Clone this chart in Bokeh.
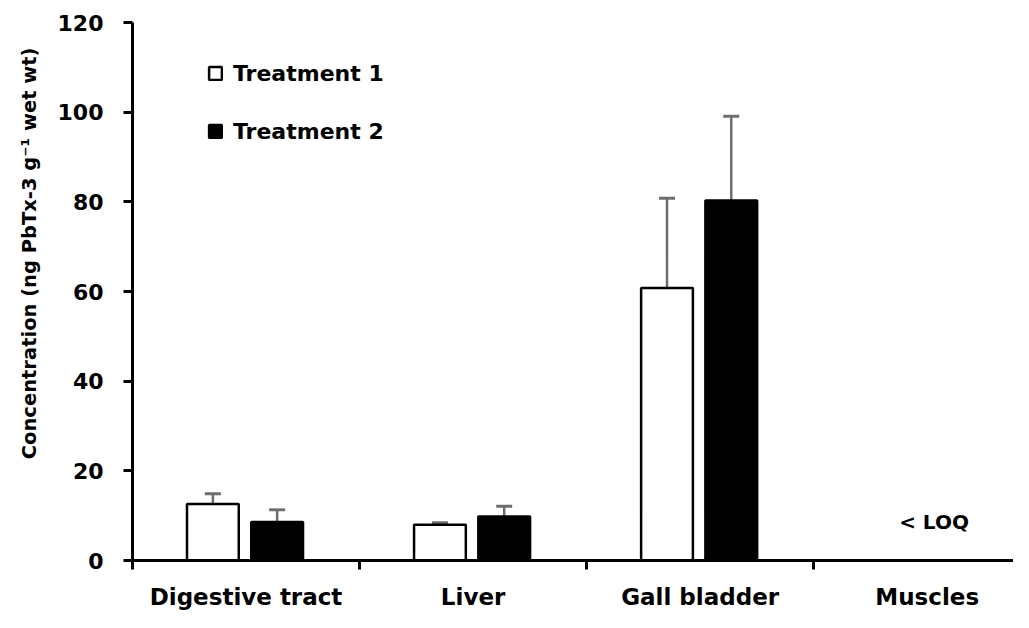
from bokeh.plotting import figure
from bokeh.models import (ColumnDataSource, Range1d, FixedTicker, Whisker, TeeHead,
                          Legend, LegendItem, Title)
from bokeh.transform import dodge
from bokeh.core.properties import value
from bokeh.embed import file_html
from bokeh.resources import INLINE

# ---- data ----
categories = ["Digestive tract", "Liver", "Gall bladder", "Muscles"]
bar_categories = ["Digestive tract", "Liver", "Gall bladder"]
treatment1 = [12.6, 8.0, 60.8]
treatment1_err = [2.3, 0.4, 20.0]
treatment2 = [8.6, 9.8, 80.3]
treatment2_err = [2.7, 2.3, 18.8]
y_ticks = [0, 20, 40, 60, 80, 100, 120]
loq_label = "< LOQ"
loq_category = "Muscles"
loq_y = [8.6]
series_names = ["Treatment 1", "Treatment 2"]
y_label = "Concentration (ng PbTx-3 g\u207b\u00b9 wet wt)"

FONT = "DejaVu Sans"

xc = [categories.index(c) + 0.5 for c in bar_categories]
src1 = ColumnDataSource(dict(x=xc, top=treatment1,
                             upper=[t + e for t, e in zip(treatment1, treatment1_err)]))
src2 = ColumnDataSource(dict(x=xc, top=treatment2,
                             upper=[t + e for t, e in zip(treatment2, treatment2_err)]))

p = figure(width=1013, height=612, output_backend="svg", toolbar_location=None,
           x_range=Range1d(0, 3.88), y_range=Range1d(0, 120),
           min_border_left=132, min_border_right=0, min_border_top=22,
           min_border_bottom=40)
p.outline_line_color = None
p.xgrid.visible = False
p.ygrid.visible = False
p.background_fill_color = "white"
p.border_fill_color = "white"

w = 0.228
off1, off2 = -0.146, 0.137
wh1 = Whisker(source=src1, base=dodge("x", off1), upper="upper", lower="top",
              dimension="height", line_color="#6e6e6e", line_width=2.5,
              lower_head=None,
              upper_head=TeeHead(size=16, line_color="#6e6e6e", line_width=3))
wh2 = Whisker(source=src2, base=dodge("x", off2), upper="upper", lower="top",
              dimension="height", line_color="#6e6e6e", line_width=2.5,
              lower_head=None,
              upper_head=TeeHead(size=16, line_color="#6e6e6e", line_width=3))
p.add_layout(wh1)
p.add_layout(wh2)

r1 = p.vbar(x=dodge("x", off1), top="top", width=w, source=src1,
            fill_color="white", line_color="black", line_width=2.5)
r2 = p.vbar(x=dodge("x", off2), top="top", width=w, source=src2,
            fill_color="black", line_color="black", line_width=2.5)

# <LOQ text
loq_src = ColumnDataSource(dict(x=[categories.index(loq_category) + 0.5 + 0.03],
                                y=loq_y, t=[loq_label]))
p.text(x="x", y="y", text="t", source=loq_src, text_align="center",
       text_baseline="middle", text_font=value(FONT), text_font_style="bold",
       text_font_size="20px", text_color="black")

# y axis
ya = p.yaxis[0]
ya.ticker = FixedTicker(ticks=y_ticks)
ya.axis_line_width = 3
ya.axis_line_color = "black"
ya.major_tick_line_width = 3
ya.major_tick_out = 9
ya.major_tick_in = 0
ya.minor_tick_line_color = None
ya.major_label_text_font = FONT
ya.major_label_text_font_style = "bold"
ya.major_label_text_font_size = "22px"
ya.major_label_text_color = "black"
ya.major_label_standoff = 20

# x axis
xa = p.xaxis[0]
xa.ticker = FixedTicker(ticks=[i + 0.5 for i in range(len(categories))],
                        minor_ticks=list(range(len(categories) + 1)))
xa.major_label_overrides = {i + 0.5: c for i, c in enumerate(categories)}
xa.axis_line_width = 3
xa.axis_line_color = "black"
xa.major_tick_line_color = None
xa.major_tick_out = 0
xa.major_tick_in = 0
xa.minor_tick_line_width = 3
xa.minor_tick_line_color = "black"
xa.minor_tick_out = 9
xa.minor_tick_in = 0
xa.major_label_text_font = FONT
xa.major_label_text_font_style = "bold"
xa.major_label_text_font_size = "23px"
xa.major_label_text_color = "black"
xa.major_label_standoff = 14

# y label as left title
t = Title(text=y_label, align="right", offset=16, text_font=FONT,
          text_font_style="bold", text_font_size="19.5px", text_color="black",
          padding=9, standoff=10)
p.add_layout(t, "left")

legend = Legend(items=[LegendItem(label=series_names[0], renderers=[r1]),
                       LegendItem(label=series_names[1], renderers=[r2])],
                location=(75, 414), orientation="vertical",
                background_fill_alpha=0, border_line_color=None,
                padding=0, margin=0, spacing=28, label_height=30,
                glyph_height=16, glyph_width=16, label_standoff=10,
                label_text_font=FONT, label_text_font_style="bold",
                label_text_font_size="22px", label_text_color="black")
p.add_layout(legend)

open("out.html", "w").write(file_html(p, INLINE))
